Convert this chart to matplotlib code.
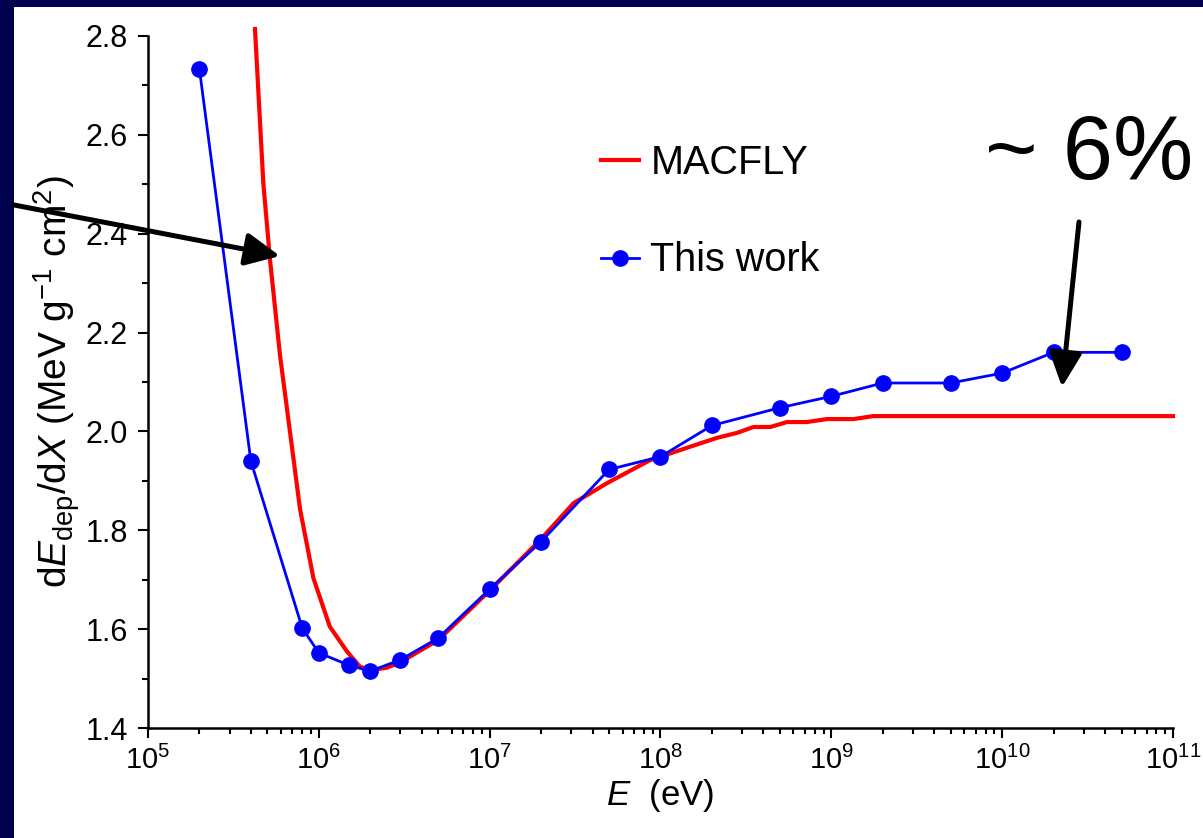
import matplotlib
matplotlib.use('Agg')
import matplotlib.pyplot as plt
from matplotlib.patches import FancyArrowPatch, Rectangle
from matplotlib.lines import Line2D
from matplotlib.ticker import MultipleLocator, LogLocator, NullFormatter

plt.rcParams['font.family'] = ['Liberation Sans', 'DejaVu Sans']
plt.rcParams['mathtext.fontset'] = 'custom'
plt.rcParams['mathtext.rm'] = 'Liberation Sans'
plt.rcParams['mathtext.it'] = 'Liberation Sans:italic'
plt.rcParams['mathtext.bf'] = 'Liberation Sans:bold'

# ---- data ----
macfly_E = [4.23e5, 4.73e5, 5.18e5, 5.93e5, 6.78e5, 7.76e5, 9.3e5, 1.16e6, 1.46e6,
            1.74e6, 2.0e6, 2.5e6, 3e6, 5e6, 1e7, 1.97e7, 3.1e7, 4.9e7, 8.7e7,
            1.49e8, 2.14e8, 2.8e8, 3.5e8, 4.4e8, 5.5e8, 7.2e8, 9.4e8, 1.35e9,
            1.76e9, 1e11]
macfly_dEdX = [2.814, 2.503, 2.347, 2.153, 1.999, 1.843, 1.703, 1.605, 1.555,
               1.524, 1.517, 1.522, 1.533, 1.578, 1.678, 1.780, 1.855, 1.896, 1.942,
               1.969, 1.987, 1.997, 2.009, 2.009, 2.019, 2.019, 2.025, 2.025,
               2.031, 2.031]

this_work_E = [2e5, 4e5, 8e5, 1e6, 1.5e6, 2e6, 3e6, 5e6, 1e7, 2e7, 5e7, 1e8,
               2e8, 5e8, 1e9, 2e9, 5e9, 1e10, 2e10, 5e10]
this_work_dEdX = [2.733, 1.940, 1.602, 1.552, 1.527, 1.515, 1.538, 1.582, 1.681,
                  1.777, 1.923, 1.949, 2.012, 2.048, 2.071, 2.098, 2.098, 2.118,
                  2.160, 2.160]

series_labels = ['MACFLY', 'This work']
annotation_text = '~ 6%'

W, H = 1203, 838
fig = plt.figure(figsize=(W / 100, H / 100), dpi=100)
fig.patch.set_facecolor('#00004E')
fig.add_artist(Rectangle((14 / W, 0), 1 - 14 / W, (H - 7) / H, transform=fig.transFigure,
                         facecolor='white', edgecolor='none', zorder=0))

ax = fig.add_axes([148 / W, 1 - 728 / H, (1173 - 148) / W, (728 - 36) / H])
ax.set_facecolor('none')

ax.plot(macfly_E, macfly_dEdX, color='#FF0000', lw=3.0, clip_on=False, zorder=3,
        label=series_labels[0])
ax.plot(this_work_E, this_work_dEdX, color='#0000FF', lw=2.0, marker='o',
        markersize=11, zorder=4, label=series_labels[1])

ax.set_xscale('log')
ax.set_xlim(1e5, 1e11)
ax.set_ylim(1.4, 2.8)

for s in ['top', 'right']:
    ax.spines[s].set_visible(False)
for s in ['left', 'bottom']:
    ax.spines[s].set_linewidth(1.8)

ax.yaxis.set_major_locator(MultipleLocator(0.2))
ax.yaxis.set_minor_locator(MultipleLocator(0.1))
ax.yaxis.set_major_formatter(matplotlib.ticker.FormatStrFormatter('%.1f'))
ax.xaxis.set_major_locator(LogLocator(base=10, numticks=20))
ax.xaxis.set_minor_locator(LogLocator(base=10, subs=range(2, 10), numticks=100))
ax.xaxis.set_minor_formatter(NullFormatter())

ax.tick_params(axis='both', which='major', direction='out', length=7.5, width=1.5,
               color='black')
ax.tick_params(axis='both', which='minor', direction='out', length=4.5, width=1.5)
ax.tick_params(axis='y', which='major', labelsize=22, pad=7)
ax.tick_params(axis='x', which='major', labelsize=21, pad=5)

ax.set_xlabel(r'$\mathit{E}$  (eV)', fontsize=25, labelpad=2)
ax.set_ylabel(r'd$\mathit{E}_{\mathrm{dep}}$/d$\mathit{X}$ (MeV g$^{-1}$ cm$^{2}$)',
              fontsize=28)
ax.yaxis.set_label_coords(-0.064, 0.5)

handles = [Line2D([], [], color='#FF0000', lw=3.0),
           Line2D([], [], color='#0000FF', lw=2.0, marker='o', markersize=11)]
leg = ax.legend(handles, series_labels, loc='upper left',
                bbox_to_anchor=(601 / W, 1 - 144 / H), bbox_transform=fig.transFigure,
                frameon=False, fontsize=28.5, handlelength=0.95, handletextpad=0.3,
                labelspacing=1.5, borderpad=0, borderaxespad=0)

fig.text(985 / W, 1 - 179 / H, annotation_text, fontsize=65, ha='left', va='baseline')

arrow_style = matplotlib.patches.ArrowStyle('-|>', head_length=1.05, head_width=0.5)
for (x0, y0), (x1, y1) in [((14, 205), (280, 256)), ((1079, 222), (1062, 387))]:
    fig.add_artist(FancyArrowPatch((x0 / W, 1 - y0 / H), (x1 / W, 1 - y1 / H),
                                   transform=fig.transFigure, arrowstyle=arrow_style,
                                   mutation_scale=20, lw=3.6, color='black',
                                   shrinkA=0, shrinkB=0, zorder=10))

fig.savefig('out.png', dpi=100, facecolor=fig.get_facecolor())
